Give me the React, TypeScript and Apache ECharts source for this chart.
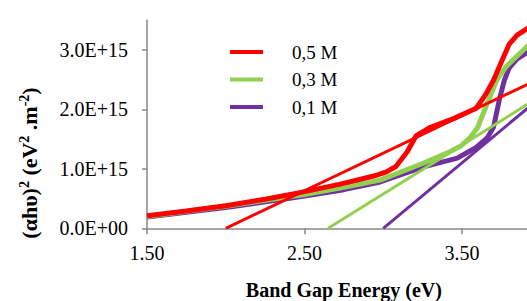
import React, { useEffect, useRef } from 'react';
import * as echarts from 'echarts';

const xTicks = [1.5, 2.5, 3.5];
const yTicks = [0, 1e15, 2e15, 3e15];
const seriesNames = ['0,5 M', '0,3 M', '0,1 M'];

// 0,5 M curve
const energy05 = [1.5, 1.75, 2.0, 2.25, 2.47, 2.72, 2.94, 3.02, 3.08, 3.15, 3.21, 3.3, 3.45, 3.59, 3.65, 3.7, 3.75, 3.8, 3.85, 3.93];
const alpha05 = [0.21e15, 0.29e15, 0.38e15, 0.49e15, 0.6e15, 0.74e15, 0.88e15, 0.95e15, 1.04e15, 1.28e15, 1.56e15, 1.7e15, 1.85e15, 2.02e15, 2.25e15, 2.49e15, 2.8e15, 3.1e15, 3.25e15, 3.39e15];
// 0,3 M curve
const energy03 = [1.5, 2.0, 2.5, 2.75, 2.98, 3.25, 3.4, 3.49, 3.55, 3.6, 3.66, 3.72, 3.78, 3.85, 3.93];
const alpha03 = [0.2e15, 0.37e15, 0.57e15, 0.69e15, 0.81e15, 1.09e15, 1.26e15, 1.38e15, 1.52e15, 1.7e15, 2.1e15, 2.49e15, 2.72e15, 2.9e15, 3.1e15];
// 0,1 M curve
const energy01 = [1.5, 2.0, 2.47, 2.75, 2.98, 3.25, 3.47, 3.59, 3.66, 3.7, 3.74, 3.77, 3.8, 3.85, 3.93];
const alpha01 = [0.19e15, 0.35e15, 0.53e15, 0.65e15, 0.78e15, 1.03e15, 1.18e15, 1.36e15, 1.52e15, 1.7e15, 2.2e15, 2.5e15, 2.7e15, 2.85e15, 2.99e15];

// tangent (extrapolation) lines
const tangent05X = [2.0, 3.93];
const tangent05Y = [0, 2.44e15];
const tangent03X = [2.65, 3.93];
const tangent03Y = [0, 2.11e15];
const tangent01X = [3.0, 3.93];
const tangent01Y = [0, 2.05e15];

const RED = '#FF0000';
const GREEN = '#92D050';
const PURPLE = '#7030A0';
const FONT = 'Liberation Serif';
const AXIS_COLOR = '#898989';

const zip = (xs: number[], ys: number[]) => xs.map((x, i) => [x, ys[i]]);

const sci = (v: number) => {
  if (v === 0) return '0.0E+00';
  const e = Math.floor(Math.log10(v) + 1e-9);
  const m = v / Math.pow(10, e);
  return m.toFixed(1) + 'E+' + String(e).padStart(2, '0');
};

export default function App() {
  const ref = useRef<HTMLDivElement>(null);
  useEffect(() => {
    if (!ref.current) return;
    const chart = echarts.init(ref.current, undefined, { renderer: 'svg' });
    const curve = (name: string, color: string, xs: number[], ys: number[], width: number) => ({
      type: 'line',
      name,
      data: zip(xs, ys),
      symbol: 'none',
      showSymbol: false,
      color,
      lineStyle: { color, width },
    });
    chart.setOption({
      animation: false,
      textStyle: { fontFamily: FONT },
      grid: { left: 147, top: 20.3, width: 393.75, height: 208, outerBoundsMode: 'none', containLabel: false },
      legend: {
        data: seriesNames,
        orient: 'vertical',
        left: 225,
        top: 37,
        icon: 'rect',
        itemWidth: 33,
        itemHeight: 4,
        itemGap: 7.5,
        textStyle: { fontFamily: FONT, fontSize: 19, color: '#000', lineHeight: 20, padding: [0, 0, 0, 24] },
      },
      xAxis: {
        type: 'value',
        min: 1.5,
        max: 4.0,
        interval: 0.5,
        splitLine: { show: false },
        axisLine: { lineStyle: { color: AXIS_COLOR, width: 1.5 } },
        axisTick: { length: 6, lineStyle: { color: AXIS_COLOR, width: 1.5 }, customValues: xTicks },
        axisLabel: {
          customValues: xTicks,
          formatter: (v: number) => v.toFixed(2),
          fontFamily: FONT,
          fontSize: 20,
          color: '#000',
          margin: 15,
        },
        name: 'Band Gap Energy (eV)',
        nameLocation: 'middle',
        nameGap: 52,
        nameTextStyle: { fontFamily: FONT, fontSize: 20, fontWeight: 'bold', color: '#000' },
      },
      yAxis: {
        type: 'value',
        min: 0,
        max: 3.5e15,
        interval: 0.5e15,
        splitLine: { show: false },
        axisLine: { show: true, lineStyle: { color: AXIS_COLOR, width: 1.5 } },
        axisTick: { show: true, length: 5, lineStyle: { color: AXIS_COLOR, width: 1.5 }, customValues: yTicks },
        axisLabel: {
          customValues: yTicks,
          formatter: (v: number) => sci(v),
          fontFamily: FONT,
          fontSize: 20,
          color: '#000',
          margin: 19,
        },
      },
      graphic: [
        {
          type: 'text',
          x: 29,
          y: 163,
          rotation: Math.PI / 2,
          style: {
            text: '{b|(αhυ)}{s|2}{b| (eV}{s|2}{b| .m}{s|-2}{b|)}',
            align: 'center',
            verticalAlign: 'middle',
            rich: {
              b: { fontFamily: FONT, fontSize: 22, fontWeight: 'bold', fill: '#000', lineHeight: 24 },
              s: { fontFamily: FONT, fontSize: 14, fontWeight: 'bold', fill: '#000', verticalAlign: 'top', lineHeight: 14 },
            },
          },
        },
      ],
      series: [
        curve('0,1 M', PURPLE, energy01, alpha01, 5),
        curve('tangent 0,1 M', PURPLE, tangent01X, tangent01Y, 3),
        curve('0,3 M', GREEN, energy03, alpha03, 5),
        curve('tangent 0,3 M', GREEN, tangent03X, tangent03Y, 3),
        curve('0,5 M', RED, energy05, alpha05, 5),
        curve('tangent 0,5 M', RED, tangent05X, tangent05Y, 3),
      ],
    });
    return () => chart.dispose();
  }, []);
  return (
    <div style={{ position: 'fixed', left: 0, top: 0, width: 527, height: 301, overflow: 'hidden', background: '#fff' }}>
      <div ref={ref} style={{ width: 560, height: 301 }} />
    </div>
  );
}
